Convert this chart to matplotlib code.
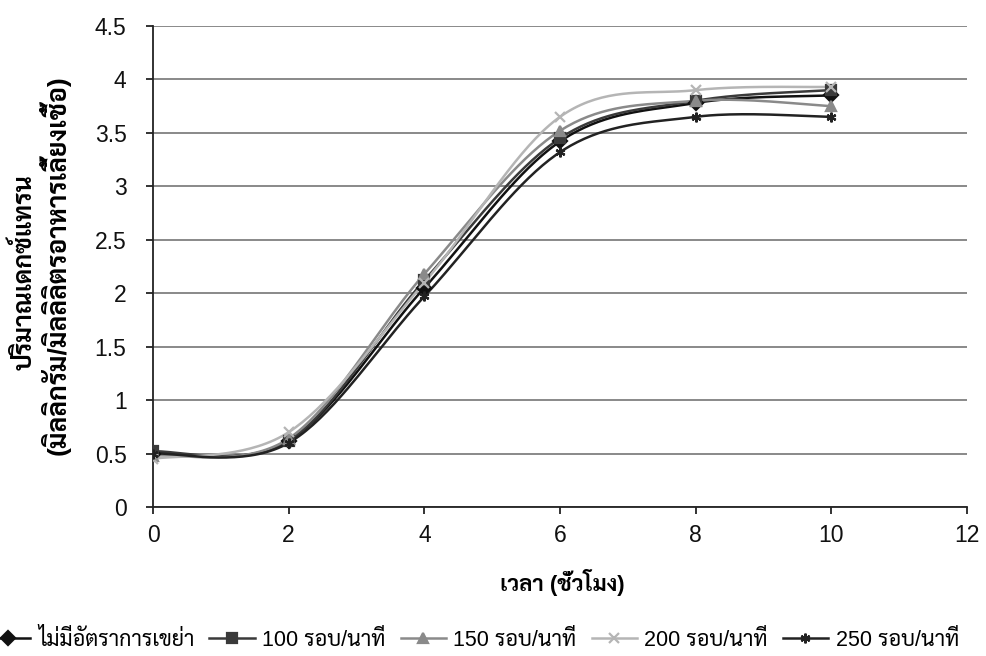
import matplotlib
matplotlib.use("Agg")
import matplotlib.pyplot as plt
import numpy as np

plt.rcParams['font.family'] = ['Liberation Sans', 'Sarabun']

# sampling times (hours) and dextran levels per shaking rate
hours = [0, 2, 4, 6, 8, 10]
series_names = ["ไม่มีอัตราการเขย่า", "100 รอบ/นาที", "150 รอบ/นาที",
                "200 รอบ/นาที", "250 รอบ/นาที"]
no_shake = [0.50, 0.62, 2.05, 3.42, 3.78, 3.85]
rpm_100 = [0.52, 0.62, 2.12, 3.45, 3.80, 3.90]
rpm_150 = [0.48, 0.64, 2.18, 3.52, 3.80, 3.75]
rpm_200 = [0.45, 0.70, 2.10, 3.65, 3.90, 3.93]
rpm_250 = [0.50, 0.60, 1.97, 3.32, 3.65, 3.65]

colors = ["#111111", "#3a3a3a", "#8a8a8a", "#b5b5b5", "#222222"]
markers = ["D", "s", "^", "x", (6, 2, 0)]


def smooth(x, y, n=40):
    # Bezier curve through the points with Catmull-Rom style tangents
    x = np.asarray(x, float)
    y = np.asarray(y, float)
    px = np.concatenate([[x[0]], x, [x[-1]]])
    py = np.concatenate([[y[0]], y, [y[-1]]])
    xs, ys = [], []
    t = np.linspace(0, 1, n)
    for i in range(1, len(px) - 2):
        p0 = np.array([px[i], py[i]])
        p3 = np.array([px[i + 1], py[i + 1]])
        p1 = p0 + (np.array([px[i + 1], py[i + 1]]) - np.array([px[i - 1], py[i - 1]])) / 6
        p2 = p3 - (np.array([px[i + 2], py[i + 2]]) - np.array([px[i], py[i]])) / 6
        b = ((1 - t) ** 3)[:, None] * p0 + (3 * (1 - t) ** 2 * t)[:, None] * p1 \
            + (3 * (1 - t) * t ** 2)[:, None] * p2 + (t ** 3)[:, None] * p3
        xs.extend(b[:, 0])
        ys.extend(b[:, 1])
    return xs, ys


fig = plt.figure(figsize=(9.86, 6.56), dpi=100)
ax = fig.add_axes([153 / 986, 1 - 507 / 656, (967 - 153) / 986, (507 - 26) / 656])

all_series = [no_shake, rpm_100, rpm_150, rpm_200, rpm_250]
handles = []
for vals, name, c, m in zip(all_series, series_names, colors, markers):
    sx, sy = smooth(hours, vals)
    ax.plot(sx, sy, color=c, lw=1.8, zorder=3)
    ax.plot(hours, vals, ls='none', marker=m, color=c, ms=7, mew=1.6, zorder=4)
    h, = ax.plot([], [], color=c, lw=1.8, marker=m, ms=7, mew=1.6)
    handles.append(h)

ax.set_xlim(0, 12)
ax.set_ylim(0, 4.5)
ax.set_xticks(range(0, 13, 2))
ax.set_yticks(np.arange(0, 4.51, 0.5))
ax.set_yticklabels([f"{v:g}" for v in np.arange(0, 4.51, 0.5)])
ax.tick_params(labelsize=16.5, length=5, width=1.2, colors="#111111")
ax.tick_params(axis='y', pad=14)
ax.tick_params(axis='x', pad=7)
ax.yaxis.grid(True, color="#808080", lw=1.3)
ax.set_axisbelow(True)
for s in ["top", "right"]:
    ax.spines[s].set_visible(False)
for s in ["left", "bottom"]:
    ax.spines[s].set_linewidth(1.3)
    ax.spines[s].set_color("#222222")

fig.text(562 / 986, 1 - 582 / 656, "เวลา (ชั่วโมง)", ha='center', va='center',
         fontsize=16, fontweight='bold')
fig.text(24 / 986, 1 - 272 / 656, "ปริมาณเดกซ์แทรน", ha='center', va='center',
         rotation=90, fontsize=18, fontweight='bold')
fig.text(55 / 986, 1 - 265 / 656, "(มิลลิกรัม/มิลลิลิตรอาหารเลี้ยงเชื้อ)",
         ha='center', va='center', rotation=90, fontsize=19, fontweight='bold')

# legend runs wider than the figure, clipped on both sides
fig.legend(handles, series_names, loc='center', ncol=5, frameon=False,
           bbox_to_anchor=(472 / 986, 1 - 640 / 656), fontsize=15.5,
           handlelength=2.1, columnspacing=0.7, handletextpad=0.35)

fig.savefig("out.png", dpi=100)
